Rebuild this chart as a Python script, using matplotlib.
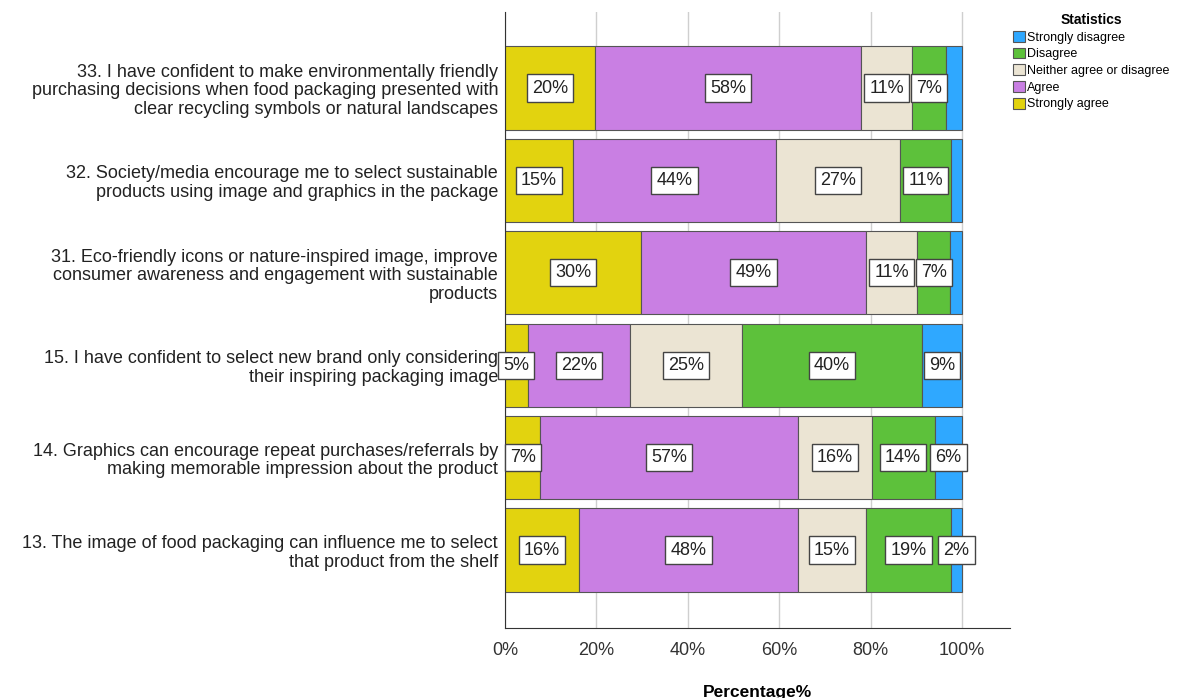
import matplotlib
matplotlib.use("Agg")
import matplotlib.pyplot as plt
import numpy as np

plt.rcParams['font.family'] = ['Liberation Sans', 'DejaVu Sans']

questions = [
    "13. The image of food packaging can influence me to select\nthat product from the shelf",
    "14. Graphics can encourage repeat purchases/referrals by\nmaking memorable impression about the product",
    "15. I have confident to select new brand only considering\ntheir inspiring packaging image",
    "31. Eco-friendly icons or nature-inspired image, improve\nconsumer awareness and engagement with sustainable\nproducts",
    "32. Society/media encourage me to select sustainable\nproducts using image and graphics in the package",
    "33. I have confident to make environmentally friendly\npurchasing decisions when food packaging presented with\nclear recycling symbols or natural landscapes",
]
categories = ["Strongly agree", "Agree", "Neither agree or disagree", "Disagree", "Strongly disagree"]
strongly_agree = [16.2, 7.7, 5.0, 29.8, 14.9, 19.8]
agree = [47.9, 56.5, 22.3, 49.2, 44.4, 58.1]
neither = [14.9, 16.0, 24.5, 11.2, 27.1, 11.2]
disagree = [18.6, 13.8, 39.4, 7.2, 11.2, 7.4]
strongly_disagree = [2.4, 6.1, 8.8, 2.6, 2.4, 3.5]
labels_sa = ["16%", "7%", "5%", "30%", "15%", "20%"]
labels_a = ["48%", "57%", "22%", "49%", "44%", "58%"]
labels_n = ["15%", "16%", "25%", "11%", "27%", "11%"]
labels_d = ["19%", "14%", "40%", "7%", "11%", "7%"]
labels_sd = ["2%", "6%", "9%", None, None, None]
xticks = [0, 20, 40, 60, 80, 100]
xtick_labels = ["0%", "20%", "40%", "60%", "80%", "100%"]

colors = ["#E2D30F", "#C97FE3", "#EBE4D3", "#5DC13B", "#2FA8FF"]
series = [strongly_agree, agree, neither, disagree, strongly_disagree]
series_labels = [labels_sa, labels_a, labels_n, labels_d, labels_sd]

fig = plt.figure(figsize=(11.86, 6.98), dpi=100)
ax = fig.add_axes([505/1186, 1-628/698, (1010-505)/1186, (628-12)/698])

y = np.arange(len(questions))
left = np.zeros(len(questions))
handles = []
for vals, col, labs, name in zip(series, colors, series_labels, categories):
    vals = np.array(vals)
    h = ax.barh(y, vals, left=left, height=0.9, color=col, edgecolor="#555555",
                linewidth=0.8, label=name, zorder=2)
    handles.append(h)
    for yi, (l, v, t) in enumerate(zip(left, vals, labs)):
        if t is None:
            continue
        ax.text(l + v/2, yi, t, ha="center", va="center", fontsize=13, color="#222222",
                zorder=4,
                bbox=dict(boxstyle="square,pad=0.28", facecolor="white", edgecolor="#444444", linewidth=1.0))
    left = left + vals

ax.set_xlim(0, 110.5)
ax.set_ylim(-0.844, 5.823)
ax.set_yticks(y)
ax.set_yticklabels(questions, fontsize=13, color="#222222", linespacing=1.12)
ax.set_xticks(xticks)
ax.set_xticklabels(xtick_labels, fontsize=13, color="#333333")
ax.tick_params(axis="y", length=0, pad=5)
ax.tick_params(axis="x", length=0, pad=10)
ax.xaxis.grid(True, color="#CFCFCF", linewidth=1.0, zorder=0)
ax.set_axisbelow(True)
for s in ["top", "right"]:
    ax.spines[s].set_visible(False)
ax.spines["left"].set_color("#333333")
ax.spines["bottom"].set_color("#333333")
ax.set_xlabel("Percentage%", fontsize=12.5, fontweight="bold", labelpad=19)

leg_handles = handles[::-1]
leg_labels = categories[::-1]
leg = fig.legend(leg_handles, leg_labels, loc="upper left", bbox_to_anchor=(1013/1186, 1-13/698),
                 frameon=False, fontsize=9, title="Statistics",
                 title_fontproperties={"weight": "bold", "size": 10},
                 handlelength=0.95, handleheight=0.95, handletextpad=0.15, labelspacing=0.32,
                 borderaxespad=0, borderpad=0)

fig.savefig("out.png", dpi=100)
